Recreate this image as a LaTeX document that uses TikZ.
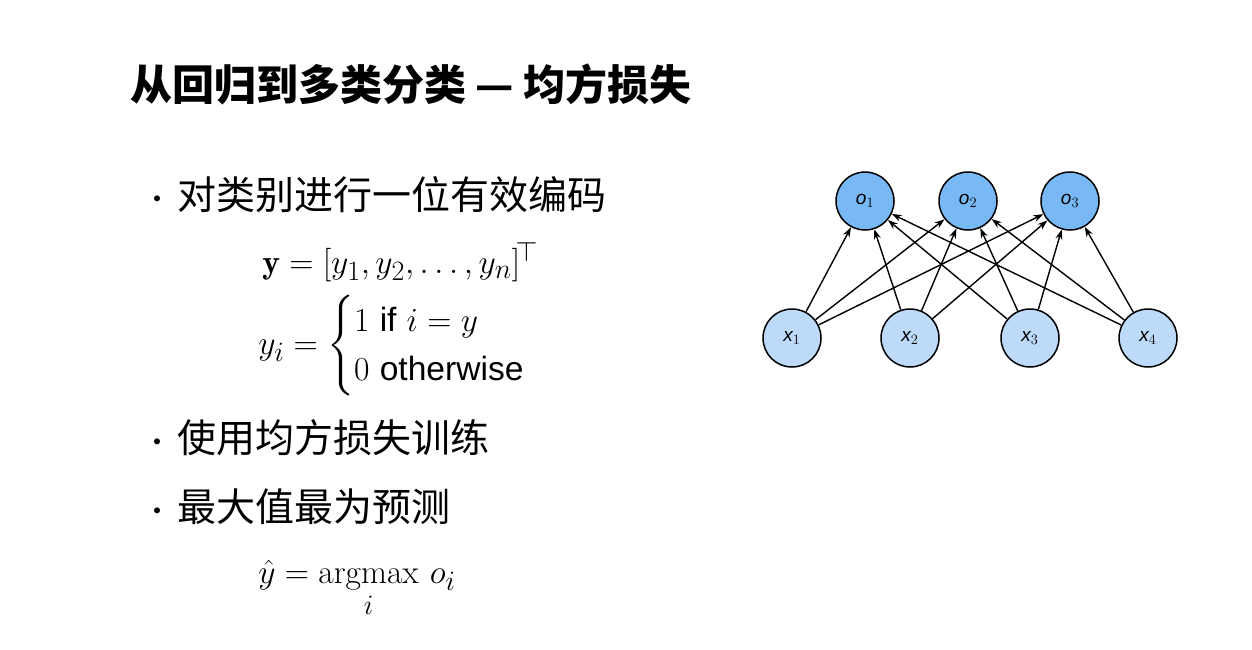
\documentclass[tikz,border=0pt]{standalone}
\usepackage{amsmath}
\usepackage{fontspec}
\newfontfamily\cjk{Noto Sans CJK SC}
\newfontfamily\sansf{Liberation Sans}
\usetikzlibrary{arrows.meta}
\tikzset{
 outn/.style={circle,draw,line width=1.5pt,fill={rgb,255:red,120;green,185;blue,245},minimum size=58pt,inner sep=0pt,font=\sansf\itshape\fontsize{19}{19}\selectfont},
 inn/.style={outn,fill={rgb,255:red,190;green,218;blue,250}},
 conn/.style={-{Stealth[length=10pt,width=7pt]},line width=1.4pt},
 txt/.style={anchor=west,inner sep=0pt,font=\cjk\fontsize{39}{39}\selectfont},
 eq/.style={anchor=west,inner sep=0pt,font=\Huge,scale=1.35,transform shape}
}
\begin{document}
\begin{tikzpicture}[x=1pt,y=-1pt]
\useasboundingbox (0,0) rectangle (1252,650);
\node[anchor=west,inner sep=0pt,font=\cjk\bfseries\fontsize{42}{42}\selectfont] (title) at (130,84) {从回归到多类分类 — 均方损失};
\node[txt] (b1) at (143,195) {\fontsize{28}{28}\selectfont•\hspace{6pt}\fontsize{39}{39}\selectfont 对类别进行一位有效编码};
\node[eq] (e1) at (262,262) {$\mathbf{y}=[y_1,y_2,\ldots,y_n]^{\!\top}$};
\node[eq] (e2) at (258,346) {$y_i=\begin{cases}1\ \text{\sansf if}\ i=y\\ 0\ \text{\sansf otherwise}\end{cases}$};
\node[txt] (b2) at (143,438) {\fontsize{28}{28}\selectfont•\hspace{6pt}\fontsize{39}{39}\selectfont 使用均方损失训练};
\node[txt] (b3) at (143,507) {\fontsize{28}{28}\selectfont•\hspace{6pt}\fontsize{39}{39}\selectfont 最大值最为预测};
\node[eq,anchor=north west] (e3) at (258,560) {$\hat{y}=\operatorname*{argmax}\limits_i\, o_i$};
\node[outn] (o1) at (865,201) {o$_1$};
\node[outn] (o2) at (968,201) {o$_2$};
\node[outn] (o3) at (1070,201) {o$_3$};
\node[inn] (x1) at (792,338) {x$_1$};
\node[inn] (x2) at (910,338) {x$_2$};
\node[inn] (x3) at (1030,338) {x$_3$};
\node[inn] (x4) at (1148,338) {x$_4$};
\foreach \i in {1,2,3,4}{\foreach \j in {1,2,3}{\draw[conn] (x\i) -- (o\j);}}
\end{tikzpicture}
\end{document}
